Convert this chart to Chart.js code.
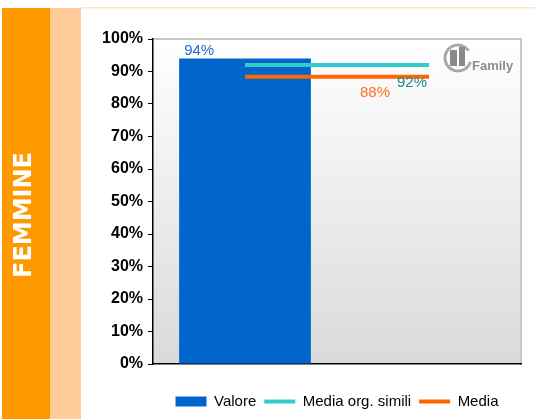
<!DOCTYPE html>
<html>
<head>
<meta charset="utf-8">
<script src="https://cdn.jsdelivr.net/npm/chart.js@4"></script>
<style>
  html, body { margin: 0; padding: 0; background: #fff; }
  #wrap { width: 535px; height: 419px; position: relative; }
</style>
</head>
<body>
<div id="wrap"><canvas id="graph" width="535" height="419"></canvas></div>
<script>
// data
var categories = ['', ''];
var valore = [94, null];
var mediaSimili = [92, 92];
var media = [88.4, 88.4];
var seriesNames = ['Valore', 'Media org. simili', 'Media'];
var yTicks = [0, 10, 20, 30, 40, 50, 60, 70, 80, 90, 100];
var sideLabel = 'FEMMINE';

var context = document.querySelector('#graph').getContext('2d');

// orange side strips, plot background and the little logo
var backdrop = {
  id: 'backdrop',
  afterLayout: function(chart) {
    // legend is centred under the plot, not the whole canvas
    chart.legend.left = chart.chartArea.left;
    chart.legend.right = chart.chartArea.right;
  },
  beforeDraw: function(chart) {
    var ctx = chart.ctx;
    var a = chart.chartArea;
    ctx.save();
    ctx.fillStyle = '#ff9900';
    ctx.fillRect(2, 8, 48, 411);
    ctx.fillStyle = '#ffcc99';
    ctx.fillRect(50, 8, 31, 411);
    ctx.fillStyle = '#fde3cc';
    ctx.fillRect(81, 7, 454, 1.5);

    var g = ctx.createLinearGradient(0, a.top, 0, a.bottom);
    g.addColorStop(0, '#ffffff');
    g.addColorStop(1, '#dadada');
    ctx.fillStyle = g;
    ctx.fillRect(a.left, a.top, a.right - a.left, a.bottom - a.top);
    ctx.strokeStyle = '#c8c8c8';
    ctx.lineWidth = 2;
    ctx.beginPath();
    ctx.moveTo(a.left, a.top);
    ctx.lineTo(a.right, a.top);
    ctx.lineTo(a.right, a.bottom);
    ctx.stroke();

    ctx.translate(25, 215);
    ctx.rotate(-Math.PI / 2);
    ctx.fillStyle = '#ffffff';
    ctx.font = 'bold 24px "DejaVu Sans"';
    ctx.textAlign = 'center';
    ctx.textBaseline = 'middle';
    ctx.fillText(sideLabel, 0, 0);
    ctx.restore();

    // logo
    ctx.save();
    ctx.strokeStyle = '#a8a8a8';
    ctx.lineWidth = 3;
    ctx.beginPath();
    ctx.arc(458, 58, 13, 0.3, Math.PI * 2 - 0.6);
    ctx.stroke();
    ctx.fillStyle = '#8a8a8a';
    ctx.fillRect(450, 50, 7, 16);
    ctx.fillRect(459, 47, 6, 19);
    ctx.font = 'bold 13px "Liberation Sans"';
    ctx.fillStyle = '#8c8c8c';
    ctx.fillText('Family', 472, 66);
    ctx.restore();
  }
};

// value labels
var valueLabels = {
  id: 'valueLabels',
  afterDatasetsDraw: function(chart) {
    var ctx = chart.ctx;
    ctx.save();
    ctx.font = '15px "Liberation Sans"';
    ctx.textBaseline = 'alphabetic';

    var bar = chart.getDatasetMeta(0).data[0];
    ctx.fillStyle = '#1f6fd0';
    ctx.textAlign = 'left';
    ctx.fillText(Math.round(valore[0]) + '%', bar.x - bar.width / 2 + 5, bar.y - 4);

    var p1 = chart.getDatasetMeta(1).data[1];
    ctx.fillStyle = '#1e8a8a';
    ctx.textAlign = 'center';
    ctx.fillText(Math.round(mediaSimili[1]) + '%', p1.x - 17, p1.y + 22);

    var p2 = chart.getDatasetMeta(2).data[1];
    ctx.fillStyle = '#ff7020';
    ctx.fillText(Math.round(media[1]) + '%', p2.x - 54, p2.y + 20);
    ctx.restore();
  }
};

var chart = new Chart(context, {
  type: 'bar',
  data: {
    labels: categories,
    datasets: [{
      label: seriesNames[0],
      data: valore,
      backgroundColor: '#0066cc',
      borderWidth: 0,
      barPercentage: 0.716,
      categoryPercentage: 1,
      pointStyle: 'rect',
      order: 3
    }, {
      type: 'line',
      label: seriesNames[1],
      data: mediaSimili,
      borderColor: '#33cccc',
      backgroundColor: '#33cccc',
      borderWidth: 4,
      pointRadius: 0,
      pointStyle: 'line',
      order: 2
    }, {
      type: 'line',
      label: seriesNames[2],
      data: media,
      borderColor: '#ff6600',
      backgroundColor: '#ff6600',
      borderWidth: 4,
      pointRadius: 0,
      pointStyle: 'line',
      order: 1
    }]
  },
  options: {
    responsive: false,
    animation: false,
    layout: {
      padding: { left: 0, right: 14, top: 39, bottom: 0 }
    },
    plugins: {
      tooltip: { enabled: false },
      legend: {
        position: 'bottom',
        labels: {
          usePointStyle: true,
          pointStyleWidth: 31,
          boxHeight: 10,
          padding: 8,
          color: '#000',
          font: { family: '"Liberation Sans"', size: 15 },
          generateLabels: function(c) {
            return c.data.datasets.map(function(ds, i) {
              return {
                text: ds.label,
                fillStyle: ds.backgroundColor,
                strokeStyle: ds.type === 'line' ? ds.borderColor : ds.backgroundColor,
                lineWidth: ds.type === 'line' ? 4 : 0,
                pointStyle: ds.pointStyle,
                fontColor: '#000',
                datasetIndex: i
              };
            });
          }
        }
      }
    },
    scales: {
      x: {
        afterFit: function(scale) { scale.height = 22; },
        grid: { display: false, drawTicks: false },
        ticks: { display: false },
        border: { display: true, color: '#000', width: 1.5 }
      },
      y: {
        min: 0,
        max: 100,
        afterFit: function(scale) { scale.width = 153; },
        afterBuildTicks: function(scale) {
          scale.ticks = yTicks.map(function(v) { return { value: v }; });
        },
        grid: { drawOnChartArea: false, color: '#000', tickLength: 5 },
        border: { display: true, color: '#000', width: 1.5 },
        ticks: {
          color: '#000',
          padding: 5,
          font: { family: '"Liberation Sans"', size: 16, weight: 'bold' },
          callback: function(v) { return v + '%'; }
        }
      }
    }
  },
  plugins: [backdrop, valueLabels]
});
</script>
</body>
</html>
